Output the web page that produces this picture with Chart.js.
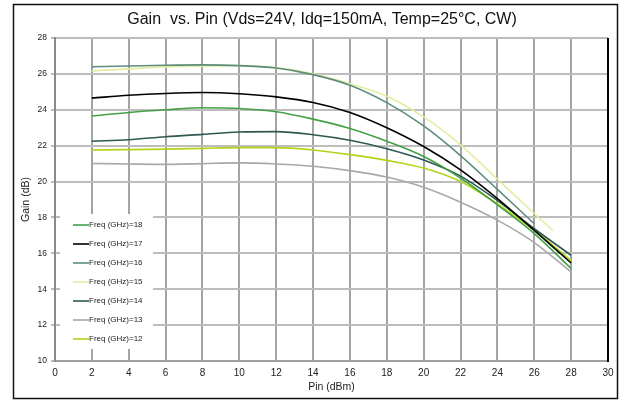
<!DOCTYPE html>
<html>
<head>
<meta charset="utf-8">
<script src="https://cdn.jsdelivr.net/npm/chart.js@4.4.1/dist/chart.umd.min.js"></script>
<style>
html,body{margin:0;padding:0;background:#fff;}
#wrap{position:relative;width:624px;height:401px;}
</style>
</head>
<body>
<div id="wrap"><canvas id="c" width="624" height="401"></canvas></div>
<script>
const chartTitle = 'Gain  vs. Pin (Vds=24V, Idq=150mA, Temp=25°C, CW)';
const xAxisTitle = 'Pin (dBm)';
const yAxisTitle = 'Gain (dB)';

const pin = [2, 4, 6, 8, 10, 12, 14, 16, 18, 20, 22, 24, 26, 28];
const pin15 = [2, 4, 6, 8, 10, 12, 14, 16, 18, 20, 22, 24, 26, 27];
const pin16 = [2, 4, 6, 8, 10, 12, 14, 16, 18, 20, 22, 24, 26];

const gain18 = [23.65, 23.85, 24.00, 24.11, 24.07, 23.89, 23.48, 22.96, 22.25, 21.40, 20.20, 18.70, 17.10, 15.15];
const gain17 = [24.65, 24.81, 24.91, 24.96, 24.89, 24.72, 24.41, 23.85, 23.00, 21.95, 20.65, 19.05, 17.28, 15.46];
const gain16 = [26.40, 26.44, 26.48, 26.50, 26.46, 26.33, 25.96, 25.37, 24.40, 23.10, 21.45, 19.56, 17.65];
const gain15 = [26.17, 26.28, 26.39, 26.43, 26.46, 26.35, 26.00, 25.45, 24.75, 23.60, 22.05, 20.13, 18.22, 17.28];
const gain14 = [22.25, 22.33, 22.50, 22.63, 22.76, 22.78, 22.61, 22.30, 21.83, 21.20, 20.30, 18.94, 17.37, 15.89];
const gain13 = [21.01, 20.98, 20.96, 21.00, 21.04, 20.98, 20.85, 20.61, 20.25, 19.68, 18.85, 17.85, 16.60, 14.96];
const gain12 = [21.76, 21.78, 21.81, 21.85, 21.89, 21.89, 21.76, 21.50, 21.18, 20.75, 20.00, 18.75, 17.28, 15.60];

const seriesLabels = ['Freq (GHz)=18', 'Freq (GHz)=17', 'Freq (GHz)=16', 'Freq (GHz)=15', 'Freq (GHz)=14', 'Freq (GHz)=13', 'Freq (GHz)=12'];
const seriesX = [pin, pin, pin16, pin15, pin, pin, pin];
const seriesY = [gain18, gain17, gain16, gain15, gain14, gain13, gain12];
const seriesColors = ['#45a045', '#000000', '#5c8c7c', '#e0eea0', '#2e5852', '#a8a8a8', '#b2d418'];

const xTicks = [0, 2, 4, 6, 8, 10, 12, 14, 16, 18, 20, 22, 24, 26, 28, 30];
const yTicks = [10, 12, 14, 16, 18, 20, 22, 24, 26, 28];

const datasets = seriesLabels.map((lab, i) => ({
  label: lab,
  data: seriesX[i].map((x, j) => ({x: x, y: seriesY[i][j]})),
  borderColor: seriesColors[i],
  backgroundColor: seriesColors[i],
  borderWidth: 1.6,
  pointRadius: 0,
  fill: false,
  cubicInterpolationMode: 'monotone'
}));

const FONT = "'Liberation Sans', Arial, sans-serif";

const decor = {
  id: 'decor',
  beforeDatasetsDraw(chart) {
    const ctx = chart.ctx;
    ctx.save();
    ctx.fillStyle = '#ffffff';
    ctx.fillRect(60, 214, 93, 135);
    ctx.restore();
  },
  afterDraw(chart) {
    const ctx = chart.ctx;
    const a = chart.chartArea;
    ctx.save();
    ctx.strokeStyle = '#000';
    ctx.lineWidth = 2;
    ctx.beginPath();
    ctx.moveTo(a.right, a.top);
    ctx.lineTo(a.right, a.bottom + 1);
    ctx.stroke();
    ctx.lineWidth = 1.5;
    ctx.strokeStyle = '#111';
    ctx.strokeRect(13.5, 4.5, 604, 394);
    ctx.fillStyle = '#111';
    ctx.font = '16px ' + FONT;
    ctx.textAlign = 'center';
    ctx.textBaseline = 'middle';
    ctx.fillText(chartTitle, 322, 20);
    ctx.font = '8px ' + FONT;
    ctx.textAlign = 'left';
    chart.data.datasets.forEach((ds, i) => {
      const y = 225 + i * 19;
      ctx.strokeStyle = ds.borderColor;
      ctx.lineWidth = 1.6;
      ctx.beginPath();
      ctx.moveTo(73, y);
      ctx.lineTo(89, y);
      ctx.stroke();
      ctx.fillStyle = '#222';
      ctx.fillText(ds.label, 89, y);
    });
    ctx.restore();
  }
};

new Chart(document.getElementById('c'), {
  type: 'line',
  data: { datasets: datasets },
  options: {
    responsive: false,
    animation: false,
    events: [],
    layout: { padding: { top: 38, right: 16, left: 0, bottom: 0 } },
    plugins: { legend: { display: false }, title: { display: false }, tooltip: { enabled: false } },
    scales: {
      x: {
        type: 'linear',
        min: 0, max: 30,
        afterBuildTicks(s) { s.ticks = xTicks.map(v => ({value: v})); },
        afterFit(s) { s.height = 40; },
        grid: { color: '#a4a4a4', lineWidth: 2, drawTicks: false },
        border: { color: '#a0a0a0', width: 2 },
        ticks: { color: '#222', font: { family: FONT, size: 10 }, padding: 6, maxRotation: 0 },
        title: { display: true, text: xAxisTitle, color: '#222', font: { family: FONT, size: 10.5 }, padding: { top: 0, bottom: 8 } }
      },
      y: {
        type: 'linear',
        min: 10, max: 28,
        afterBuildTicks(s) { s.ticks = yTicks.map(v => ({value: v})); },
        afterFit(s) { s.width = 55; },
        grid: { color: '#bdbdbd', lineWidth: 2, drawTicks: true, tickLength: 4 },
        border: { color: '#8a8a8a', width: 2 },
        ticks: { color: '#222', font: { family: FONT, size: 8.5 }, padding: 4 },
        title: { display: true, text: yAxisTitle, color: '#222', font: { family: FONT, size: 10.5 }, padding: { top: 20, bottom: 0 } }
      }
    }
  },
  plugins: [decor]
});
</script>
</body>
</html>
